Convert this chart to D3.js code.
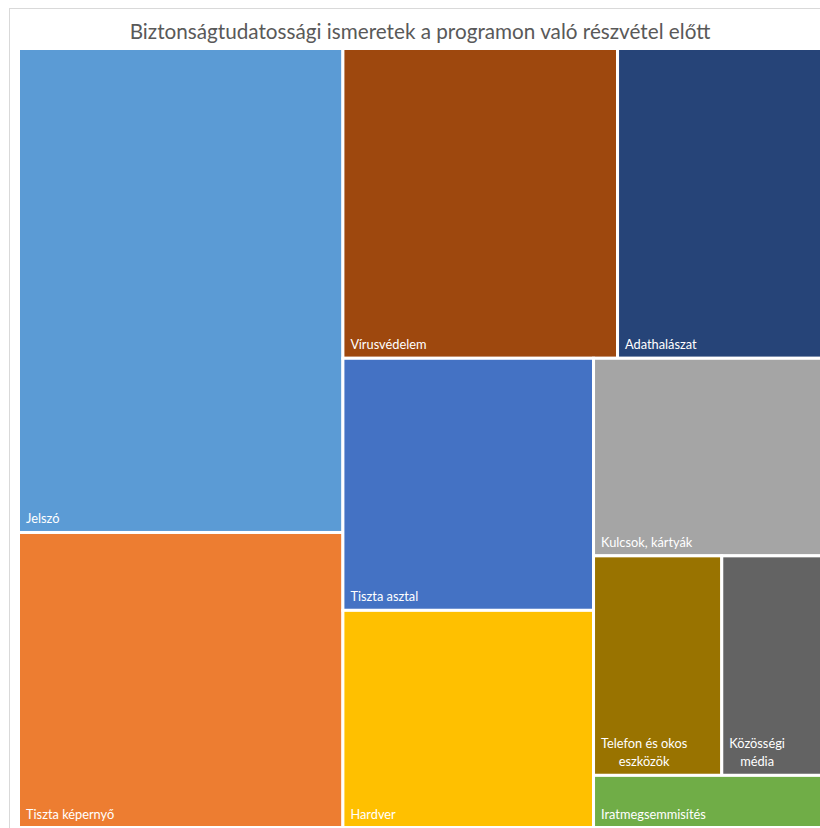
<!DOCTYPE html>
<html lang="hu">
<head>
<meta charset="UTF-8">
<title>Treemap</title>
<script src="https://cdn.jsdelivr.net/npm/d3@7"></script>
<style>
  body { margin: 0; background: #fff; }
  .title { font: 20.7px Lato, "Open Sans", sans-serif; fill: #595959; }
  .lbl { font: 12.8px Lato, "Open Sans", sans-serif; fill: #fff; }
</style>
</head>
<body>
<svg width="820" height="828"></svg>
<script>
// adatok (a terület arányából becsülve)
var categories = ["Jelszó", "Tiszta képernyő", "Vírusvédelem", "Adathalászat", "Tiszta asztal",
                  "Hardver", "Kulcsok, kártyák", "Telefon és okos eszközök", "Közösségi média", "Iratmegsemmisítés"];
var values = [25.1, 15.3, 13.6, 10.1, 10.1, 8.7, 7.2, 4.5, 3.5, 1.9];
var colors = ["#5B9BD5", "#ED7D31", "#9E480E", "#264478", "#4472C4",
              "#FFC000", "#A5A5A5", "#997300", "#636363", "#70AD47"];
// hány elem kerül egy sorba (Excel elrendezés)
var rowSizes = [2, 2, 2, 1, 2, 1];

var svg = d3.select("svg");

// keret
svg.append("rect")
    .attr("x", 9.5).attr("y", 8.5)
    .attr("width", 830).attr("height", 830)
    .attr("fill", "none").attr("stroke", "#d9d9d9");

svg.append("text")
    .attr("class", "title")
    .attr("x", 420).attr("y", 39)
    .attr("text-anchor", "middle")
    .text("Biztonságtudatossági ismeretek a programon való részvétel előtt");

function excelTile(parent, x0, y0, x1, y1) {
    var nodes = parent.children, i = 0, value = parent.value;
    rowSizes.forEach(function (n) {
        var kids = nodes.slice(i, i + n);
        var row = {children: kids, value: d3.sum(kids, function (d) { return d.value; })};
        i += n;
        var dx = x1 - x0, dy = y1 - y0;
        if (dx < dy) {
            var y = y0 + dy * row.value / value;
            d3.treemapDice(row, x0, y0, x1, y);
            y0 = y;
        } else {
            var x = x0 + dx * row.value / value;
            d3.treemapSlice(row, x0, y0, x, y1);
            x0 = x;
        }
        value -= row.value;
    });
}

var data = {children: categories.map(function (c, i) { return {name: c, value: values[i], color: colors[i]}; })};
var root = d3.hierarchy(data).sum(function (d) { return d.value || 0; });

d3.treemap()
    .tile(excelTile)
    .size([803, 779])(root);

var g = svg.append("g").attr("transform", "translate(18.5,48.5)");

var cell = g.selectAll("g.cell")
    .data(root.leaves())
    .enter().append("g")
    .attr("class", "cell");

cell.append("rect")
    .attr("x", function (d) { return d.x0; })
    .attr("y", function (d) { return d.y0; })
    .attr("width", function (d) { return d.x1 - d.x0; })
    .attr("height", function (d) { return d.y1 - d.y0; })
    .attr("fill", function (d) { return d.data.color; })
    .attr("stroke", "#fff")
    .attr("stroke-width", 3);

cell.each(function (d) {
    var sel = d3.select(this);
    var maxW = d.x1 - d.x0 - 14;
    var t = sel.append("text").attr("class", "lbl").text(d.data.name);
    var lines = [d.data.name];
    if (t.node().getComputedTextLength() > maxW) {
        var words = d.data.name.split(" ");
        lines = [];
        var cur = "";
        words.forEach(function (w) {
            var test = cur ? cur + " " + w : w;
            t.text(test);
            if (t.node().getComputedTextLength() > maxW && cur) {
                lines.push(cur);
                cur = w;
            } else {
                cur = test;
            }
        });
        lines.push(cur);
    }
    t.remove();
    // szélesség mérése a középre igazításhoz
    var widths = lines.map(function (l) {
        var tt = sel.append("text").attr("class", "lbl").text(l);
        var w = tt.node().getComputedTextLength();
        tt.remove();
        return w;
    });
    var blockW = d3.max(widths);
    var lh = 18;
    var baseY = d.y1 - 9;
    lines.forEach(function (l, i) {
        sel.append("text")
            .attr("class", "lbl")
            .attr("x", lines.length > 1 ? d.x0 + 7.5 + blockW / 2 : d.x0 + 7.5)
            .attr("y", baseY - (lines.length - 1 - i) * lh)
            .attr("text-anchor", lines.length > 1 ? "middle" : "start")
            .text(l);
    });
});
</script>
</body>
</html>
